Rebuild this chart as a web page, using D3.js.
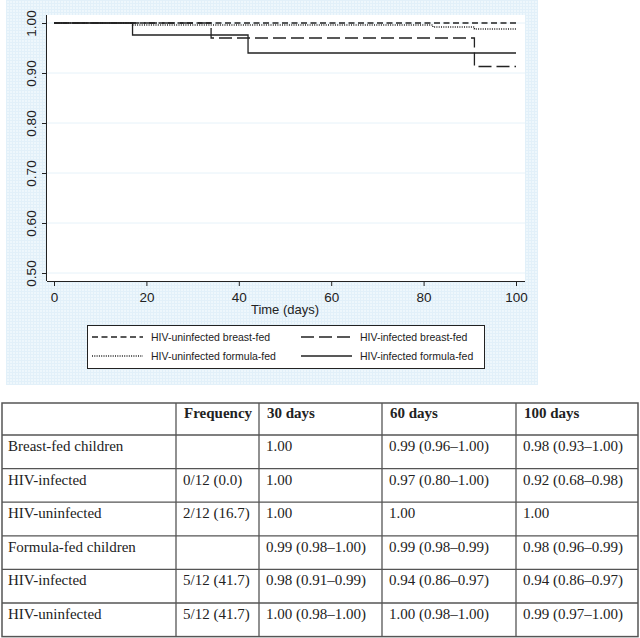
<!DOCTYPE html>
<html>
<head>
<meta charset="utf-8">
<script src="https://cdn.jsdelivr.net/npm/d3@7"></script>
<style>
  body { margin: 0; background: #fff; }
  svg { display: block; }
</style>
</head>
<body>
<div id="chart"></div>
<script>
// survival curves (step points: day, proportion surviving)
var seriesNames = ["HIV-uninfected breast-fed", "HIV-infected breast-fed",
                   "HIV-uninfected formula-fed", "HIV-infected formula-fed"];
var uninfBreastDays = [0, 100];
var uninfBreastSurv = [1.00, 1.00];
var infBreastDays = [0, 34, 91, 100];
var infBreastSurv = [1.00, 0.97, 0.913, 0.913];
var uninfFormulaDays = [0, 17, 82, 91, 100];
var uninfFormulaSurv = [1.00, 0.996, 0.992, 0.988, 0.988];
var infFormulaDays = [0, 17, 42, 100];
var infFormulaSurv = [1.00, 0.976, 0.94, 0.94];

var xTicks = [0, 20, 40, 60, 80, 100];
var yTicks = [0.50, 0.60, 0.70, 0.80, 0.90, 1.00];

// table below the graph
var tableHeaders = ["", "Frequency", "30 days", "60 days", "100 days"];
var rowLabels = ["Breast-fed children", "HIV-infected", "HIV-uninfected",
                 "Formula-fed children", "HIV-infected", "HIV-uninfected"];
var frequency = ["", "0/12 (0.0)", "2/12 (16.7)", "", "5/12 (41.7)", "5/12 (41.7)"];
var surv30 = ["1.00", "1.00", "1.00", "0.99 (0.98\u20131.00)", "0.98 (0.91\u20130.99)", "1.00 (0.98\u20131.00)"];
var surv60 = ["0.99 (0.96\u20131.00)", "0.97 (0.80\u20131.00)", "1.00", "0.99 (0.98\u20130.99)", "0.94 (0.86\u20130.97)", "1.00 (0.98\u20131.00)"];
var surv100 = ["0.98 (0.93\u20131.00)", "0.92 (0.68\u20130.98)", "1.00", "0.98 (0.96\u20130.99)", "0.94 (0.86\u20130.97)", "0.99 (0.97\u20131.00)"];

function main() {
    var width = 640, height = 638;
    var svg = d3.select("#chart").append("svg")
                .attr("width", width).attr("height", height);

    // light blue graph region with fine grid texture
    var pat = svg.append("defs").append("pattern")
                .attr("id", "bgrid").attr("width", 3).attr("height", 3)
                .attr("patternUnits", "userSpaceOnUse");
    pat.append("rect").attr("width", 3).attr("height", 3).attr("fill", "#eef7fc");
    pat.append("path").attr("d", "M0,0.5H3M0.5,0V3").attr("stroke", "#e2f0f9").attr("stroke-width", 1);
    svg.append("rect").attr("x", 6).attr("y", 0).attr("width", 532).attr("height", 385)
        .attr("fill", "url(#bgrid)");

    var plotL = 47, plotR = 525, plotT = 15, plotB = 281;
    svg.append("rect").attr("x", plotL).attr("y", plotT)
        .attr("width", plotR - plotL).attr("height", plotB - plotT).attr("fill", "#fff");

    var x = d3.scaleLinear().domain([0, 100]).range([54, 516]);
    var y = d3.scaleLinear().domain([0.5, 1.0]).range([273, 23]);

    // faint gridlines
    svg.append("g").selectAll("line").data(yTicks).enter().append("line")
        .attr("x1", plotL).attr("x2", plotR)
        .attr("y1", function(d){return y(d);}).attr("y2", function(d){return y(d);})
        .attr("stroke", "#e6f2f9").attr("stroke-width", 1);

    var font = "'Liberation Sans', Arial, Helvetica, sans-serif";

    // x axis
    var xAxis = svg.append("g").attr("transform", "translate(0," + plotB + ")")
        .call(d3.axisBottom(x).tickValues(xTicks).tickSize(5).tickPadding(6).tickFormat(d3.format("d")));
    xAxis.select(".domain").attr("d", "M" + plotL + ",0.5H" + plotR).attr("stroke", "#222");
    xAxis.selectAll(".tick line").attr("stroke", "#222");
    xAxis.selectAll("text").attr("font-family", font).attr("font-size", "13.5px").attr("fill", "#222");

    // y axis
    var yAxis = svg.append("g").attr("transform", "translate(" + plotL + ",0)")
        .call(d3.axisLeft(y).tickValues(yTicks).tickSize(5).tickFormat(d3.format(".2f")));
    yAxis.select(".domain").attr("d", "M-0.5," + plotT + "V" + plotB).attr("stroke", "#222");
    yAxis.selectAll(".tick line").attr("stroke", "#222");
    yAxis.selectAll("text").attr("font-family", font).attr("font-size", "13.5px").attr("fill", "#222")
        .attr("x", null).attr("dy", null).attr("text-anchor", "middle")
        .attr("transform", "translate(-11,0) rotate(-90)");

    svg.append("text").attr("x", (x(0) + x(100)) / 2).attr("y", 314)
        .attr("text-anchor", "middle").attr("font-family", font).attr("font-size", "13px")
        .attr("fill", "#222").text("Time (days)");

    // curves
    var dashes = ["6,3.5", "13,5", "1,1.3", null];
    var curves = [
        d3.zip(uninfBreastDays, uninfBreastSurv),
        d3.zip(infBreastDays, infBreastSurv),
        d3.zip(uninfFormulaDays, uninfFormulaSurv),
        d3.zip(infFormulaDays, infFormulaSurv)
    ];
    var line = d3.line().curve(d3.curveStepAfter)
                .x(function(d){return x(d[0]);}).y(function(d){return y(d[1]);});
    svg.append("g").selectAll("path").data(curves).enter().append("path")
        .attr("d", line).attr("fill", "none").attr("stroke", "#222")
        .attr("stroke-width", 1.3)
        .attr("stroke-dasharray", function(d, i){return dashes[i];});

    // legend
    svg.append("rect").attr("x", 87.5).attr("y", 325.5).attr("width", 397).attr("height", 43)
        .attr("fill", "#fff").attr("stroke", "#222").attr("stroke-width", 1);
    var legend = svg.append("g").selectAll("g").data(seriesNames).enter().append("g")
        .attr("transform", function(d, i){
            return "translate(" + (i % 2 === 0 ? 92 : 301) + "," + (i < 2 ? 337 : 356) + ")";
        });
    legend.append("line").attr("x1", 0).attr("x2", 51).attr("y1", 0).attr("y2", 0)
        .attr("stroke", "#222").attr("stroke-width", 1.3)
        .attr("stroke-dasharray", function(d, i){return dashes[i];});
    legend.append("text").attr("x", 59).attr("y", 4)
        .attr("font-family", font).attr("font-size", "10.5px").attr("fill", "#222")
        .text(function(d){return d;});

    // table
    var colX = [2, 176, 259, 382, 516, 638];
    var rowY = [403, 435];
    for (var r = 1; r <= rowLabels.length; r++) rowY.push(435 + r * 33.6);
    var tfont = "'Liberation Serif', 'Times New Roman', Times, serif";
    var tg = svg.append("g");
    tg.append("rect").attr("x", colX[0]).attr("y", rowY[0])
        .attr("width", colX[5] - colX[0]).attr("height", rowY[rowY.length - 1] - rowY[0])
        .attr("fill", "none").attr("stroke", "#555").attr("stroke-width", 1.5);
    tg.selectAll(".hl").data(rowY.slice(1, -1)).enter().append("line")
        .attr("x1", colX[0]).attr("x2", colX[5])
        .attr("y1", function(d){return d;}).attr("y2", function(d){return d;})
        .attr("stroke", "#555").attr("stroke-width", 1.3);
    tg.selectAll(".vl").data(colX.slice(1, -1)).enter().append("line")
        .attr("x1", function(d){return d;}).attr("x2", function(d){return d;})
        .attr("y1", rowY[0]).attr("y2", rowY[rowY.length - 1])
        .attr("stroke", "#555").attr("stroke-width", 1.3);

    tg.selectAll(".th").data(tableHeaders).enter().append("text")
        .attr("x", function(d, i){return colX[i] + 8;}).attr("y", rowY[0] + 14.5)
        .attr("font-family", tfont).attr("font-size", "15px").attr("font-weight", "bold")
        .attr("fill", "#222").text(function(d){return d;});

    var rows = rowLabels.map(function(label, i){
        return [label, frequency[i], surv30[i], surv60[i], surv100[i]];
    });
    var tr = tg.selectAll(".tr").data(rows).enter().append("g")
        .attr("transform", function(d, i){return "translate(0," + (rowY[i + 1] + 16) + ")";});
    tr.selectAll("text").data(function(d){return d;}).enter().append("text")
        .attr("x", function(d, i){return colX[i] + (i === 0 ? 6 : 7);})
        .attr("y", 0)
        .attr("font-family", tfont).attr("font-size", "15px").attr("fill", "#222")
        .text(function(d){return d;});
}
main();
</script>
</body>
</html>
